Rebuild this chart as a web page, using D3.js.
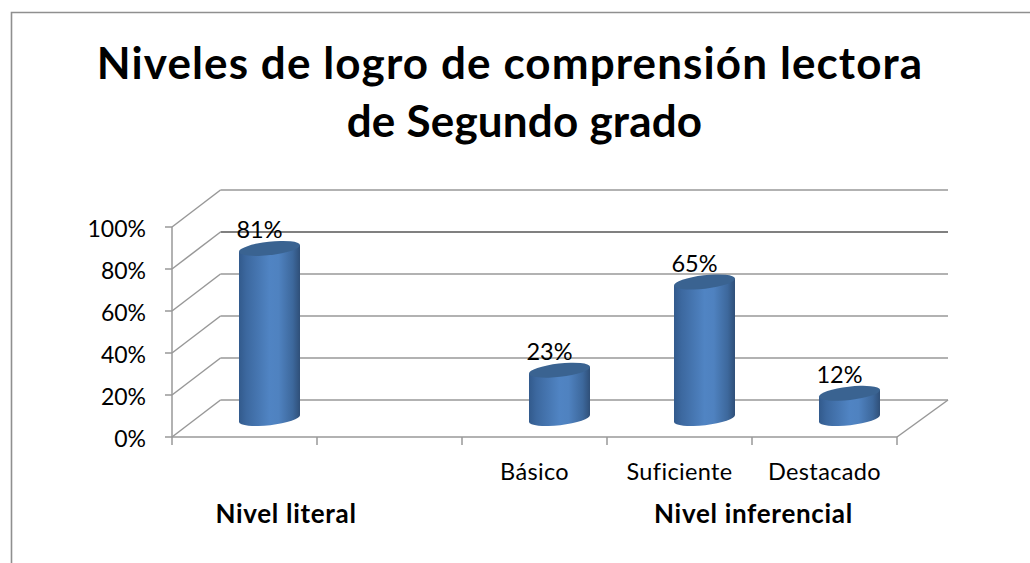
<!DOCTYPE html>
<html><head><meta charset="utf-8">
<script src="https://cdn.jsdelivr.net/npm/d3@7/dist/d3.min.js"></script>
<style>html,body{margin:0;padding:0;background:#fff}svg{display:block}text{font-family:Lato,"Open Sans",sans-serif;fill:#000}</style>
</head><body><svg id="c" width="1030" height="563"></svg>
<script>
const titleLines = ["Niveles de logro de comprensión lectora", "de Segundo grado"];
const categories = ["", "", "Básico", "Suficiente", "Destacado"];
const slots = ["a", "b", "c", "d", "e"];
const values = [0.81, null, 0.23, 0.65, 0.12];
const valueLabels = ["81%", null, "23%", "65%", "12%"];
const groupNames = ["Nivel literal", "Nivel inferencial"];
const yTicks = [0, 0.2, 0.4, 0.6, 0.8, 1];

const svg = d3.select("#c");
const x = d3.scaleBand().domain(slots).range([172, 897]);
const y = d3.scaleLinear().domain([0, 1]).range([437, 227]);
const dx = 48.5, dy = -37;

const grid = "#989898";
const defs = svg.append("defs");
const g = defs.append("linearGradient").attr("id", "cyl").attr("x1", 0).attr("x2", 1).attr("y1", 0).attr("y2", 0);
[[0, "#325a8c"], [.12, "#3c689f"], [.5, "#5084c3"], [.65, "#4f82c0"], [.88, "#3d689c"], [1, "#2f4f78"]]
  .forEach(d => g.append("stop").attr("offset", d[0]).attr("stop-color", d[1]));

svg.append("path").attr("d", "M11.5,563V12.5H1030").attr("fill", "none").attr("stroke", "#8f8f8f").attr("stroke-width", 1.6);

yTicks.forEach(t => {
  svg.append("line").attr("x1", 172 + dx).attr("x2", 897 + dx + 2.5).attr("y1", y(t) + dy).attr("y2", y(t) + dy)
    .attr("stroke", t === 0.8 ? "#808080" : grid).attr("stroke-width", t === 0.8 ? 2.2 : 1.7);
  svg.append("line").attr("x1", 172).attr("x2", 172 + dx).attr("y1", y(t)).attr("y2", y(t) + dy)
    .attr("stroke", grid).attr("stroke-width", 1.5);
  svg.append("line").attr("x1", 165).attr("x2", 172).attr("y1", y(t)).attr("y2", y(t))
    .attr("stroke", grid).attr("stroke-width", 1.5);
  svg.append("text").attr("x", 146).attr("y", y(t) + 9.5).attr("text-anchor", "end").attr("font-size", 23).text(d3.format(".0%")(t));
});
svg.append("line").attr("x1", 172).attr("x2", 172).attr("y1", y(1)).attr("y2", 445).attr("stroke", grid).attr("stroke-width", 1.5);
svg.append("line").attr("x1", 172).attr("x2", 897).attr("y1", 437).attr("y2", 437).attr("stroke", grid).attr("stroke-width", 1.7);
svg.append("line").attr("x1", 897).attr("x2", 897 + dx + 2.5).attr("y1", 437).attr("y2", 437 + dy).attr("stroke", grid).attr("stroke-width", 1.5);
slots.forEach(s => svg.append("line").attr("x1", x(s) + x.bandwidth()).attr("x2", x(s) + x.bandwidth()).attr("y1", 437).attr("y2", 445).attr("stroke", grid).attr("stroke-width", 1.5));

const rx = 30.7, ry = 6.7, tilt = -6.5;
const offX = 25, offY = dy / 2;
slots.forEach((s, i) => {
  const v = values[i];
  if (v == null) return;
  const cx = x(s) + x.bandwidth() / 2 + offX;
  const by = y(0) + offY, ty = y(v) + offY;
  const a = tilt * Math.PI / 180, sx = rx * Math.cos(a), sy = rx * Math.sin(a);
  svg.append("path").attr("d", `M${cx - sx},${ty - sy}L${cx - sx},${by - sy}A${rx},${ry} ${tilt} 0 0 ${cx + sx},${by + sy}L${cx + sx},${ty + sy}Z`).attr("fill", "url(#cyl)");
  svg.append("ellipse").attr("rx", rx).attr("ry", ry)
    .attr("transform", `translate(${cx},${ty}) rotate(${tilt})`).attr("fill", "#3a6391");
  svg.append("text").attr("x", cx - 10).attr("y", ty - 10.5).attr("text-anchor", "middle").attr("font-size", 23.5).text(valueLabels[i]);
});

slots.forEach((s, i) => {
  if (!categories[i]) return;
  svg.append("text").attr("x", x(s) + x.bandwidth() / 2).attr("y", 480).attr("text-anchor", "middle")
    .attr("font-size", 23.5).attr("letter-spacing", 0.35).text(categories[i]);
});
const groupX = [x("a") + 114, x("d") + 146.5];
groupNames.forEach((n, i) => {
  svg.append("text").attr("x", groupX[i]).attr("y", 522.5).attr("text-anchor", "middle")
    .attr("font-size", 26).attr("font-weight", 700).attr("letter-spacing", 0.7).text(n);
});
const titleY = [78.5, 137], titleX = [510, 524.5], titleSp = [1.1, 0.2];
titleLines.forEach((t, i) => svg.append("text").attr("x", titleX[i]).attr("y", titleY[i]).attr("text-anchor", "middle")
  .attr("font-size", 44).attr("font-weight", 700).attr("letter-spacing", titleSp[i]).text(t));
</script></body></html>
